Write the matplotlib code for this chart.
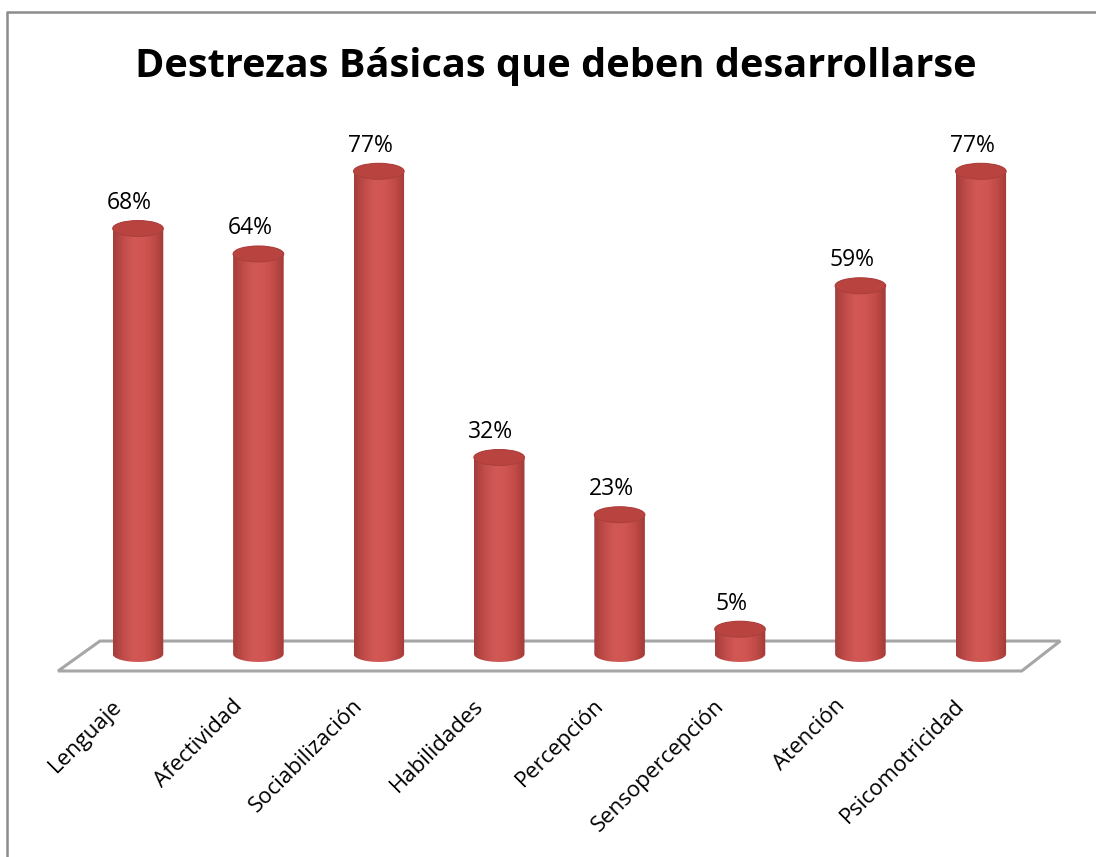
import numpy as np
import matplotlib
matplotlib.use("Agg")
import matplotlib.pyplot as plt
from matplotlib.patches import Polygon, Ellipse, PathPatch
from matplotlib.path import Path
from matplotlib.colors import LinearSegmentedColormap

categories = ["Lenguaje", "Afectividad", "Sociabilización", "Habilidades",
              "Percepción", "Sensopercepción", "Atención", "Psicomotricidad"]
values = [68, 64, 77, 32, 23, 5, 59, 77]
labels = ["68%", "64%", "77%", "32%", "23%", "5%", "59%", "77%"]
title = "Destrezas Básicas que deben desarrollarse"

W, H = 1096, 857
fig = plt.figure(figsize=(W / 100, H / 100), dpi=100)
fig.patch.set_facecolor("white")

# axes placement (pixel layout)
x_first, x_step = 138.0, 120.4
y_zero, y_scale = 661.0, 6.36
xlim = (-0.9, 7.9)
ylim = (-5, 85)
px_l = x_first + xlim[0] * x_step
px_r = x_first + xlim[1] * x_step
px_b = y_zero - ylim[0] * y_scale
px_t = y_zero - ylim[1] * y_scale
ax = fig.add_axes([px_l / W, 1 - px_b / H, (px_r - px_l) / W, (px_b - px_t) / H])
ax.set_xlim(*xlim)
ax.set_ylim(*ylim)
ax.axis("off")

# frame
fig.add_artist(plt.Line2D([7 / W, 7 / W, 1.0], [0.0, 1 - 12 / H, 1 - 12 / H],
                          transform=fig.transFigure, color="#8c8c8c", lw=1.8))

# floor
floor_back, floor_front = 3.14, -1.57
floor = Polygon([(-0.316, floor_back), (7.66, floor_back), (7.34, floor_front), (-0.664, floor_front)],
                closed=True, facecolor="white", edgecolor="#a6a6a6", lw=2.2, zorder=1)
ax.add_patch(floor)

# cylinders
bw = 0.42           # width in data x
eh = 2.5            # ellipse height in data y
base = 1.1
cmap = LinearSegmentedColormap.from_list(
    "cyl", ["#a33d3a", "#c04c49", "#d15855", "#d05653", "#c24b47", "#a23b38"])
grad = np.linspace(0, 1, 256).reshape(1, -1)

for i, v in enumerate(values):
    xc = i
    t = np.linspace(np.pi, 2 * np.pi, 60)
    bottom = np.column_stack([xc + bw / 2 * np.cos(t), base + eh / 2 * np.sin(t)])
    t2 = np.linspace(0, np.pi, 60)
    top = np.column_stack([xc + bw / 2 * np.cos(t2), v + eh / 2 * np.sin(t2)])
    verts = np.vstack([bottom, top, bottom[:1]])
    body = PathPatch(Path(verts), facecolor="none", edgecolor="none", zorder=3)
    ax.add_patch(body)
    im = ax.imshow(grad, cmap=cmap, aspect="auto",
                   extent=(xc - bw / 2, xc + bw / 2, base - eh, v + eh), zorder=3)
    im.set_clip_path(body)
    topell = Ellipse((xc, v), bw, eh, facecolor="#b9443f", edgecolor="#ad3f3c", lw=0.8, zorder=4)
    ax.add_patch(topell)
    ax.text(xc - 0.07, v + eh / 2 + 0.9, labels[i], ha="center", va="bottom",
            fontsize=16.5, family="Open Sans", color="black", zorder=5)

# category labels
for i, c in enumerate(categories):
    ax.text(i - 0.22, -5.4, c, rotation=45, rotation_mode="anchor", ha="right", va="top",
            fontsize=16, family="Open Sans", color="black", clip_on=False)

fig.text(556 / W, 1 - 66 / H, title, ha="center", va="center", fontsize=28.6,
         fontweight="bold", family="Open Sans", color="black")

fig.savefig("out.png", dpi=100, facecolor="white")
